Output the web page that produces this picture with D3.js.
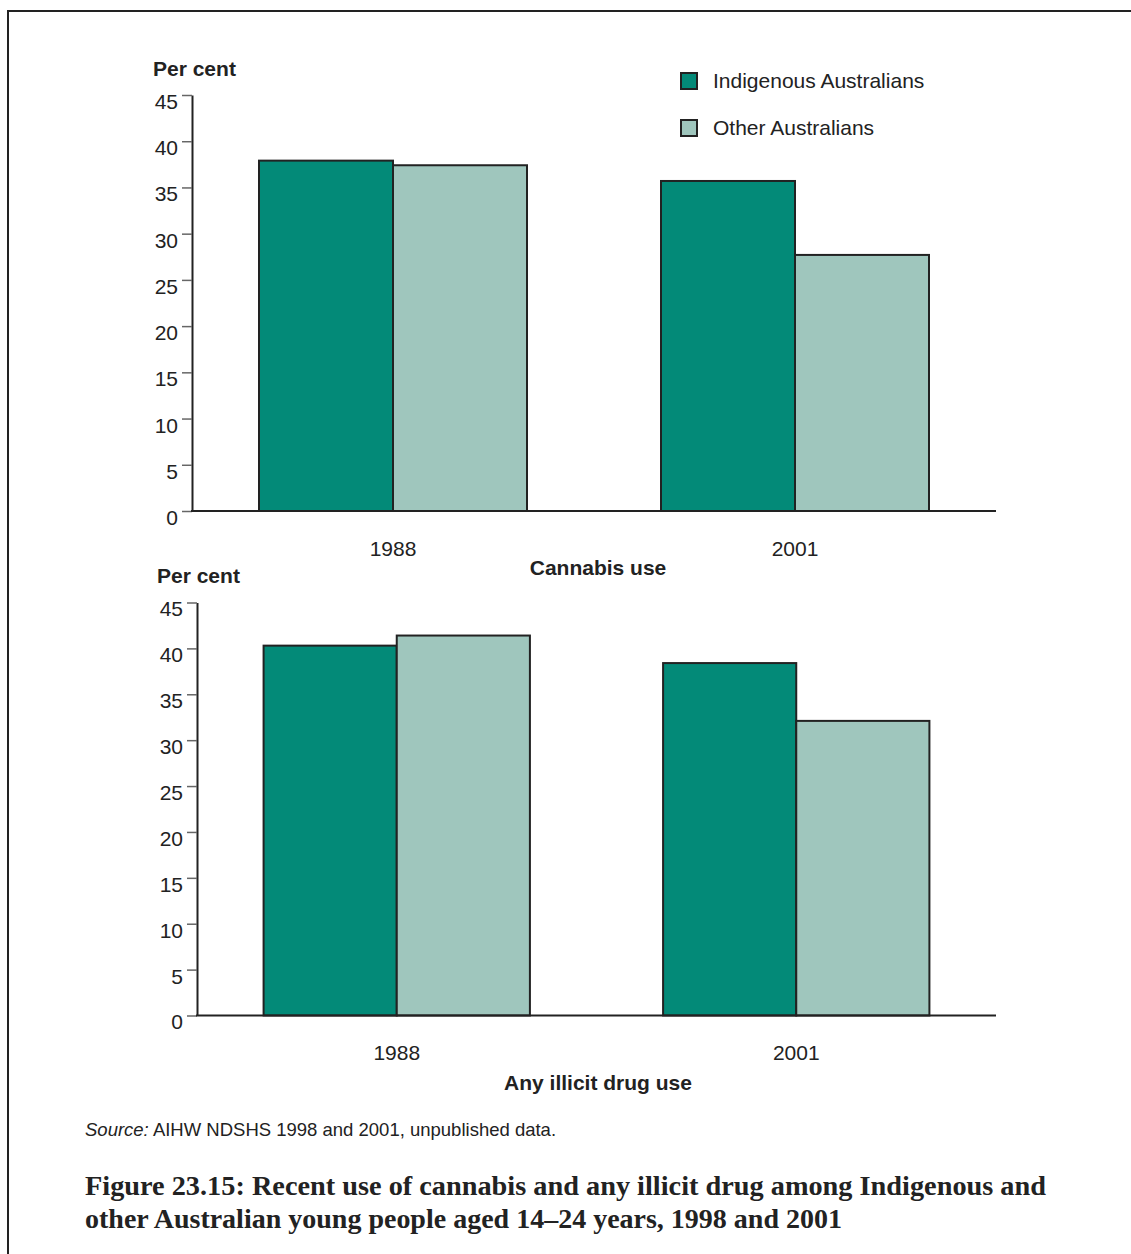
<!DOCTYPE html>
<html><head><meta charset="utf-8">
<script src="https://cdn.jsdelivr.net/npm/d3@7"></script>
<style>
html,body{margin:0;padding:0;background:#fff;}
svg{display:block;}
</style></head>
<body>
<script>
// ---- data ----
const categories = ["1988", "2001"];
const seriesNames = ["Indigenous Australians", "Other Australians"];
const cannabisIndigenous = [37.9, 35.7];
const cannabisOther = [37.4, 27.7];
const illicitIndigenous = [40.3, 38.4];
const illicitOther = [41.4, 32.1];
const yTicks = [0, 5, 10, 15, 20, 25, 30, 35, 40, 45];
const panelTitles = ["Cannabis use", "Any illicit drug use"];
const yAxisLabel = "Per cent";
const sourceItalic = "Source:";
const sourceText = " AIHW NDSHS 1998 and 2001, unpublished data.";
const captionLines = [
  "Figure 23.15: Recent use of cannabis and any illicit drug among Indigenous and",
  "other Australian young people aged 14\u201324 years, 1998 and 2001"
];

const colors = ["#038a78", "#9fc6bd"];
const W = 1131, H = 1254;
const sansFont = "'Liberation Sans', Arial, Helvetica, sans-serif";

const svg = d3.select("body").append("svg").attr("width", W).attr("height", H);

// frame
svg.append("path").attr("d", `M8,${H} L8,11 L${W},11`)
  .attr("fill", "none").attr("stroke", "#222").attr("stroke-width", 2);

function panel(cfg) {
  const x = d3.scaleBand().domain(categories).range([cfg.x0, cfg.x1])
    .paddingInner(1/3).paddingOuter(1/6);
  const xs = d3.scaleBand().domain(seriesNames).range([0, x.bandwidth()]);
  const y = d3.scaleLinear().domain([0, 45]).range([cfg.yb, cfg.yt]);
  const g = svg.append("g");

  const rows = categories.map((c, i) => ({cat: c, vals: [cfg.a[i], cfg.b[i]]}));
  const grp = g.selectAll("g.grp").data(rows).join("g")
    .attr("transform", d => `translate(${x(d.cat)},0)`);
  grp.selectAll("rect").data(d => d.vals.map((v, j) => ({v, s: seriesNames[j], j})))
    .join("rect")
    .attr("x", d => xs(d.s)).attr("width", xs.bandwidth())
    .attr("y", d => y(d.v)).attr("height", d => y(0) - y(d.v))
    .attr("fill", d => colors[d.j]).attr("stroke", "#222").attr("stroke-width", 2);

  // y axis
  const ya = g.append("g").attr("transform", `translate(${cfg.x0},0)`)
    .call(d3.axisLeft(y).tickValues(yTicks).tickSize(10).tickPadding(4).tickSizeOuter(0));
  ya.select(".domain").attr("stroke", "#222").attr("stroke-width", 2);
  ya.selectAll(".tick line").attr("stroke", "#666").attr("stroke-width", 1.5);
  ya.selectAll(".tick text").attr("font-family", sansFont).attr("font-size", 21)
    .attr("fill", "#222").attr("dy", "0.64em").attr("x", -14);

  // x axis line
  g.append("line").attr("x1", cfg.x0 - 1).attr("x2", cfg.x1).attr("y1", y(0)).attr("y2", y(0))
    .attr("stroke", "#222").attr("stroke-width", 2);
  // category labels
  g.selectAll("text.cat").data(categories).join("text")
    .attr("x", d => x(d) + x.bandwidth() / 2).attr("y", cfg.catY)
    .attr("text-anchor", "middle").attr("font-family", sansFont).attr("font-size", 21)
    .attr("fill", "#222").text(d => d);
  // title
  g.append("text").attr("x", 598).attr("y", cfg.titleY).attr("text-anchor", "middle")
    .attr("font-family", sansFont).attr("font-size", 21).attr("font-weight", "bold")
    .attr("fill", "#222").text(cfg.title);
  // y label
  g.append("text").attr("x", cfg.labX).attr("y", cfg.labY)
    .attr("font-family", sansFont).attr("font-size", 21).attr("font-weight", "bold")
    .attr("fill", "#222").text(yAxisLabel);
}

panel({x0: 192, x1: 996, yt: 95, yb: 511, a: cannabisIndigenous, b: cannabisOther,
  catY: 556, titleY: 575, title: panelTitles[0], labX: 153, labY: 76});
panel({x0: 197, x1: 996, yt: 602.5, yb: 1015.5, a: illicitIndigenous, b: illicitOther,
  catY: 1060, titleY: 1090, title: panelTitles[1], labX: 157, labY: 583});

// legend
const leg = svg.append("g");
seriesNames.forEach((s, i) => {
  const yy = 73 + i * 47;
  leg.append("rect").attr("x", 681).attr("y", yy).attr("width", 16).attr("height", 16)
    .attr("fill", colors[i]).attr("stroke", "#222").attr("stroke-width", 2);
  leg.append("text").attr("x", 713).attr("y", yy + 14.5).attr("font-family", sansFont)
    .attr("font-size", 21).attr("fill", "#222").text(s);
});

// source
const src = svg.append("text").attr("x", 85).attr("y", 1136)
  .attr("font-family", sansFont).attr("font-size", 18.5).attr("fill", "#222");
src.append("tspan").attr("font-style", "italic").text(sourceItalic);
src.append("tspan").text(sourceText);

// caption
const capWidths = [961, 757];
captionLines.forEach((t, i) => {
  svg.append("text").attr("x", 85).attr("y", 1195 + i * 33)
    .attr("font-family", "'Liberation Serif', 'DejaVu Serif', serif")
    .attr("font-size", 27).attr("font-weight", "bold").attr("fill", "#222")
    .attr("textLength", capWidths[i]).attr("lengthAdjust", "spacingAndGlyphs")
    .text(t);
});
</script>
</body></html>
